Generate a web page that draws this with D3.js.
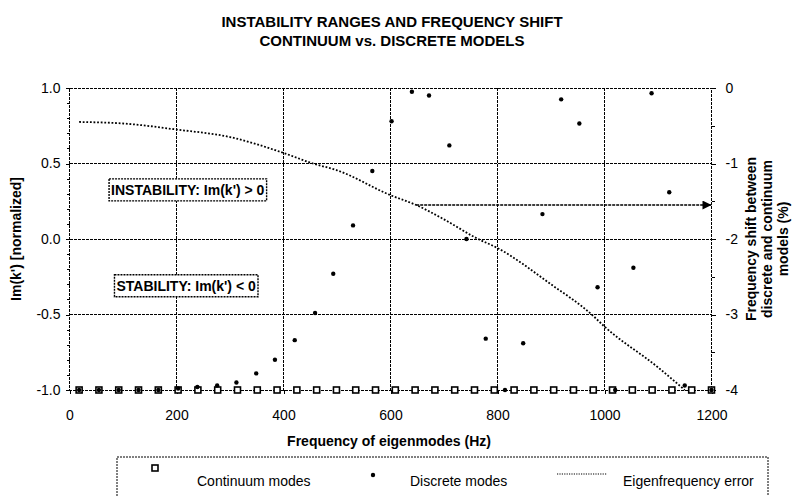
<!DOCTYPE html>
<html>
<head>
<meta charset="utf-8">
<script src="https://cdn.jsdelivr.net/npm/d3@7"></script>
<style>
  html, body { margin: 0; padding: 0; background: #fff; }
  svg { display: block; font-family: Arial, "Liberation Sans", sans-serif; }
</style>
</head>
<body>
<svg id="chart" width="792" height="496"></svg>
<script>
// Continuum model eigenfrequencies (Hz), all at Im(k') = -1 (stable)
const continuumFreq = [18, 55, 92, 129, 166, 203, 240, 277, 314, 351, 388, 425, 462, 499, 535, 572,
  609, 646, 683, 720, 757, 794, 831, 868, 905, 942, 979, 1015, 1052, 1089, 1126, 1163, 1200];
const continuumIm = [-1, -1, -1, -1, -1, -1, -1, -1, -1, -1, -1, -1, -1, -1, -1, -1,
  -1, -1, -1, -1, -1, -1, -1, -1, -1, -1, -1, -1, -1, -1, -1, -1, -1];

// Discrete model eigenfrequencies (Hz) and normalized Im(k')
const discreteFreq = [18, 55, 92, 129, 166, 203, 239, 276, 312, 349, 384, 421, 459, 493, 530, 566,
  602, 640, 672, 710, 742, 778, 814, 848, 884, 919, 953, 987, 1020, 1054, 1088, 1121, 1150, 1200];
const discreteIm = [-1.0, -1.0, -1.0, -1.0, -1.0, -0.99, -0.98, -0.97, -0.95, -0.89, -0.80, -0.67, -0.49, -0.23, 0.09, 0.45,
  0.78, 0.975, 0.95, 0.62, 0.0, -0.66, -1.0, -0.69, 0.165, 0.925, 0.765, -0.32, -1.0, -0.19, 0.965, 0.31, -0.97, -1.0];

// Eigenfrequency error between discrete and continuum models (%)
const errorFreq = [18, 100, 200, 300, 400, 455, 500, 600, 648, 700, 761, 800, 900, 976, 1000, 1100, 1150];
const errorPct = [-0.45, -0.47, -0.55, -0.65, -0.86, -1.0, -1.09, -1.42, -1.55, -1.74, -1.99, -2.12, -2.60, -3.0, -3.16, -3.70, -4.0];

// Arrow pointing from the error curve to the right-hand axis
const arrowFreq = [648, 1200];
const arrowPct = -1.55;

const xTicks = [0, 200, 400, 600, 800, 1000, 1200];
const yLeftTicks = [-1.0, -0.5, 0.0, 0.5, 1.0];
const yRightTicks = [-4, -3, -2, -1, 0];

const titleLines = ["INSTABILITY RANGES AND FREQUENCY SHIFT", "CONTINUUM vs. DISCRETE MODELS"];
const xTitle = "Frequency of eigenmodes (Hz)";
const yLeftTitle = "Im(k') [normalized]";
const yRightTitle = ["Frequency shift between", "discrete and continuum", "models (%)"];
const notes = [
  { text: "INSTABILITY: Im(k') > 0", f: 221, v: 0.325 },
  { text: "STABILITY: Im(k') < 0", f: 218, v: -0.31 }
];
const legendItems = ["Continuum modes", "Discrete modes", "Eigenfrequency error"];

const svg = d3.select("#chart");
const L = 69.5, R = 711.5, T = 88, B = 390;

const x = d3.scaleLinear().domain([0, 1200]).range([L, R]);
const y = d3.scaleLinear().domain([-1, 1]).range([B, T]);
const y2 = d3.scaleLinear().domain([-4, 0]).range([B, T]);

const dash = "3,1";
const hyphen = f => d => f(d).replace("\u2212", "-");

// Title
svg.append("g").selectAll("text").data(titleLines).join("text")
  .attr("x", 392).attr("y", (d, i) => 27 + i * 19)
  .attr("text-anchor", "middle")
  .attr("font-size", 15).attr("font-weight", "bold")
  .text(d => d);

// Grid
const grid = svg.append("g").attr("stroke", "#000").attr("stroke-width", 1)
  .attr("stroke-dasharray", dash).attr("shape-rendering", "crispEdges");
grid.selectAll(".gx").data(xTicks.slice(1, -1)).join("line")
  .attr("x1", d => x(d)).attr("x2", d => x(d)).attr("y1", T).attr("y2", B);
grid.selectAll(".gy").data(yLeftTicks.slice(1, -1)).join("line")
  .attr("y1", d => y(d)).attr("y2", d => y(d)).attr("x1", L).attr("x2", R);
// Plot frame
grid.append("rect").attr("x", L).attr("y", T).attr("width", R - L).attr("height", B - T).attr("fill", "none");

// Axes
const axL = svg.append("g").attr("transform", `translate(${L},0)`)
  .call(d3.axisLeft(y).tickValues(yLeftTicks).tickFormat(hyphen(d3.format(".1f"))).tickSize(4).tickPadding(5));
const axLm = svg.append("g").attr("transform", `translate(${L},0)`)
  .call(d3.axisLeft(y).tickValues(d3.range(-9, 10).map(k => k / 10)).tickFormat("").tickSize(3));
const axR = svg.append("g").attr("transform", `translate(${R},0)`)
  .call(d3.axisRight(y2).tickValues(yRightTicks).tickFormat(hyphen(d3.format("d"))).tickSize(4).tickPadding(10));
const axRm = svg.append("g").attr("transform", `translate(${R},0)`)
  .call(d3.axisRight(y2).tickValues([-3.5, -2.5, -1.5, -0.5]).tickFormat("").tickSize(3));
const axB = svg.append("g").attr("transform", `translate(0,${B})`)
  .call(d3.axisBottom(x).tickValues(xTicks).tickFormat(d3.format("d")).tickSize(4).tickPadding(16));
[axL, axLm, axR, axRm, axB].forEach(g => {
  g.select(".domain").remove();
  g.selectAll("line").attr("stroke", "#000").attr("shape-rendering", "crispEdges");
  g.selectAll("text").attr("font-size", 14).attr("fill", "#000")
    .attr("font-family", "Arial, 'Liberation Sans', sans-serif");
});

// Axis titles
svg.append("text").attr("x", 389).attr("y", 446).attr("text-anchor", "middle")
  .attr("font-size", 14).attr("font-weight", "bold").text(xTitle);
svg.append("text").attr("transform", `translate(21,${(T + B) / 2}) rotate(-90)`)
  .attr("text-anchor", "middle").attr("font-size", 14).attr("font-weight", "bold").text(yLeftTitle);
svg.append("g").selectAll("text").data(yRightTitle).join("text")
  .attr("transform", (d, i) => `translate(${756 + i * 16},${(T + B) / 2}) rotate(-90)`)
  .attr("text-anchor", "middle").attr("font-size", 14).attr("font-weight", "bold").text(d => d);

// Annotation boxes
notes.forEach(n => {
  const g = svg.append("g");
  const t = g.append("text").attr("x", x(n.f)).attr("y", y(n.v)).attr("dy", "0.35em")
    .attr("text-anchor", "middle").attr("font-size", 14).attr("font-weight", "bold").text(n.text);
  const bb = t.node().getBBox();
  g.insert("rect", "text").attr("x", bb.x - 2).attr("y", bb.y - 3).attr("width", bb.width + 4).attr("height", bb.height + 6)
    .attr("fill", "#fff").attr("stroke", "#000").attr("stroke-width", 1.4).attr("stroke-dasharray", "2,1");
});

// Eigenfrequency error curve (right axis)
const errLine = d3.line().x(d => x(d[0])).y(d => y2(d[1])).curve(d3.curveMonotoneX);
svg.append("path").datum(errorFreq.map((f, i) => [f, errorPct[i]]))
  .attr("d", errLine).attr("fill", "none").attr("stroke", "#000")
  .attr("stroke-width", 1.8).attr("stroke-dasharray", "1.8,1.8");

// Arrow to right axis
svg.append("defs").append("marker").attr("id", "arrowhead")
  .attr("viewBox", "0 0 10 10").attr("refX", 10).attr("refY", 5)
  .attr("markerWidth", 13).attr("markerHeight", 9).attr("markerUnits", "userSpaceOnUse").attr("orient", "auto")
  .append("path").attr("d", "M0,0L10,5L0,10Z").attr("fill", "#000");
svg.append("line")
  .attr("x1", x(arrowFreq[0])).attr("x2", x(arrowFreq[1]))
  .attr("y1", y2(arrowPct)).attr("y2", y2(arrowPct))
  .attr("stroke", "#000").attr("stroke-width", 1.6).attr("stroke-dasharray", dash)
  .attr("marker-end", "url(#arrowhead)");

// Continuum modes: open squares
svg.append("g").selectAll("rect").data(continuumFreq).join("rect")
  .attr("x", d => x(d) - 3).attr("y", (d, i) => y(continuumIm[i]) - 3)
  .attr("width", 6).attr("height", 6)
  .attr("fill", "#fff").attr("stroke", "#000").attr("stroke-width", 1.6);

// Discrete modes: small filled dots
svg.append("g").selectAll("circle").data(discreteFreq).join("circle")
  .attr("cx", d => x(d)).attr("cy", (d, i) => y(discreteIm[i])).attr("r", 2.2)
  .attr("fill", "#000");

// Legend
const lg = svg.append("g");
lg.append("rect").attr("x", 117).attr("y", 457).attr("width", 651).attr("height", 60)
  .attr("fill", "none").attr("stroke", "#000").attr("stroke-width", 1).attr("stroke-dasharray", "2,1");
lg.append("rect").attr("x", 152).attr("y", 465).attr("width", 6).attr("height", 6)
  .attr("fill", "#fff").attr("stroke", "#000").attr("stroke-width", 1.6);
lg.append("circle").attr("cx", 373).attr("cy", 475).attr("r", 2.2).attr("fill", "#000");
lg.append("line").attr("x1", 557).attr("x2", 607).attr("y1", 474).attr("y2", 474)
  .attr("stroke", "#000").attr("stroke-width", 1.2).attr("stroke-dasharray", "1.2,1.2");
lg.selectAll("text").data(legendItems).join("text")
  .attr("x", (d, i) => [197, 410, 623][i]).attr("y", 486)
  .attr("font-size", 14).text(d => d);
</script>
</body>
</html>
